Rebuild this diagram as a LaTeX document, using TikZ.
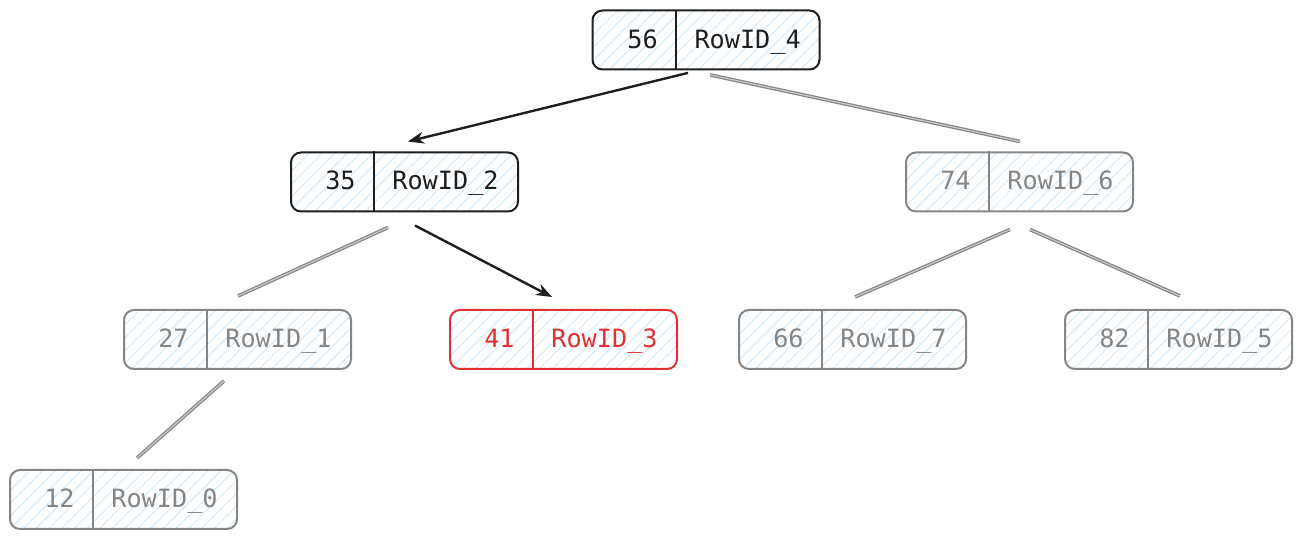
\documentclass[tikz,border=0pt]{standalone}
\usepackage{fontspec}
\setmonofont{DejaVu Sans Mono}
\usepackage{tikz}
\usetikzlibrary{
  positioning,
  calc,
  patterns.meta,
  arrows.meta
}
\definecolor{ink}{HTML}{1E1E1E}
\definecolor{grayink}{HTML}{858585}
\definecolor{redink}{HTML}{E03131}
\definecolor{hatch}{RGB}{205,228,246}

\begin{document}
\begin{tikzpicture}[x=0.5pt,y=-0.5pt,>={Stealth[length=8pt,width=6pt]},
    box/.style={rectangle,rounded corners=5pt,line width=1pt,minimum width=113.5pt,minimum height=29.5pt,inner sep=0pt,
      pattern={Lines[angle=45,distance=4.5pt,line width=0.4pt]},pattern color=hatch},
    cellblack/.style={draw=ink,text=ink},
    cellgray/.style={draw=grayink,text=grayink},
    cellred/.style={draw=redink,text=redink},
    darkedge/.style={draw=ink,line width=1.2pt,->},
    grayedge/.style={draw=grayink,line width=0.6pt,double=grayink!45,double distance=0.6pt},
    font=\ttfamily\fontsize{12.6}{14}\selectfont]
                \useasboundingbox (0,0) rectangle (1302,539);
                % boxes: key | row id
                \foreach \k/\px/\py/\r/\st in {56/706/40/4/cellblack,35/404.5/182/2/cellblack,74/1019.5/182/6/cellgray,
                    27/237.5/339.5/1/cellgray,41/563.5/339.5/3/cellred,66/852.5/339.5/7/cellgray,
                    82/1178.5/339.5/5/cellgray,12/123.5/499.5/0/cellgray}{
                    \node[box,\st] (n\k) at (\px,\py) {};
                    \draw[\st,line width=1pt] ($(n\k.north west)+(84,0)$) coordinate (d\k) -- ($(n\k.south west)+(84,0)$);
                    \node[\st,draw=none,inner sep=0pt,anchor=base east] (key\k) at ($(d\k)+(-18,38.5)$) {\k};
                    \node[\st,draw=none,inner sep=0pt,anchor=base west] (row\k) at ($(d\k)+(18,38.5)$) {RowID\_\r};
                }
                % search path
                \draw[darkedge] ([shift={(-18,3)}]n56.south) -- ([shift={(3.5,-10)}]n35.north);
                \draw[darkedge] ([shift={(10.5,13)}]n35.south) -- ([shift={(-11.5,-12)}]n41.north);
                % other branches
                \draw[grayedge] ([shift={(4,5)}]n56.south) -- ([shift={(0.5,-10)}]n74.north);
                \draw[grayedge] ([shift={(-16.5,15)}]n35.south) -- ([shift={(0.5,-13)}]n27.north);
                \draw[grayedge] ([shift={(-9.5,17)}]n74.south) -- ([shift={(2.5,-12)}]n66.north);
                \draw[grayedge] ([shift={(10.5,17)}]n74.south) -- ([shift={(1.5,-13)}]n82.north);
                \draw[grayedge] ([shift={(-13.5,11)}]n27.south) -- ([shift={(13.5,-11)}]n12.north);
            \end{tikzpicture}
\end{document}
